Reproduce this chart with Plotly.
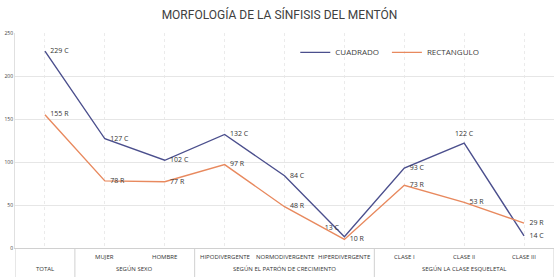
import plotly.graph_objects as go

categories = ["", "MUJER", "HOMBRE", "HIPODIVERGENTE", "NORMODIVERGENTE",
              "HIPERDIVERGENTE", "CLASE I", "CLASE II", "CLASE III"]
groups = ["TOTAL", "SEGÚN SEXO", "SEGÚN EL PATRÓN DE CRECIMIENTO", "SEGÚN LA CLASE ESQUELETAL"]
group_spans = [(0, 0), (1, 2), (3, 5), (6, 8)]
cuadrado = [229, 127, 102, 132, 84, 13, 93, 122, 14]
rectangulo = [155, 78, 77, 97, 48, 10, 73, 53, 29]
y_ticks = [0, 50, 100, 150, 200, 250]

BLUE = "#4b4f8d"
ORANGE = "#e8895e"
FONT = "Open Sans"
x = list(range(len(categories)))

pos_c = ["middle right"] * 9
pos_c[5] = "top left"
pos_c[7] = "top center"
pos_r = ["middle right"] * 9

fig = go.Figure()
fig.add_trace(go.Scatter(
    x=x, y=cuadrado, mode="lines+markers+text", name="CUADRADO", legend="legend",
    line=dict(color=BLUE, width=1.4),
    marker=dict(size=7, color="rgba(0,0,0,0)"),
    text=[f"{v} C" for v in cuadrado], textposition=pos_c,
    textfont=dict(size=7, color="#333333", family=FONT),
))
fig.add_trace(go.Scatter(
    x=x, y=rectangulo, mode="lines+markers+text", name="RECTANGULO", legend="legend2",
    line=dict(color=ORANGE, width=1.4),
    marker=dict(size=7, color="rgba(0,0,0,0)"),
    text=[f"{v} R" for v in rectangulo], textposition=pos_r,
    textfont=dict(size=7, color="#333333", family=FONT),
))

annotations = []
for i, c in enumerate(categories):
    if c:
        annotations.append(dict(x=i, y=-0.042, xref="x", yref="paper", text=c,
                                showarrow=False, font=dict(size=6, color="#333333", family=FONT),
                                yanchor="middle"))
for g, (a, b) in zip(groups, group_spans):
    annotations.append(dict(x=(a + b) / 2, y=-0.098, xref="x", yref="paper", text=g,
                            showarrow=False, font=dict(size=6, color="#333333", family=FONT),
                            yanchor="middle"))

shapes = []
for sx in [-0.5, 0.5, 2.5, 5.5, 8.5]:
    shapes.append(dict(type="line", xref="x", yref="paper", x0=sx, x1=sx, y0=0, y1=-0.14,
                       line=dict(color="#d0d0d0", width=1)))

legend_common = dict(orientation="h", y=0.91, xanchor="left", yanchor="middle",
                     font=dict(size=8, color="#404040", family=FONT),
                     bgcolor="rgba(0,0,0,0)", itemwidth=30)

fig.update_layout(
    width=559, height=277,
    margin=dict(l=15, r=5, t=33, b=29),
    paper_bgcolor="white", plot_bgcolor="white",
    title=dict(text="MORFOLOGÍA DE LA SÍNFISIS DEL MENTÓN", x=0.5, xanchor="center",
               y=0.945, yanchor="middle", font=dict(size=12, color="#404040", family="Roboto")),
    showlegend=True,
    legend=dict(x=0.52, **legend_common),
    legend2=dict(x=0.69, **legend_common),
    annotations=annotations, shapes=shapes,
    xaxis=dict(range=[-0.5, 8.5], tickvals=x, showticklabels=False, ticks="",
               showgrid=True, gridcolor="#ebebeb", griddash="dot", gridwidth=1,
               zeroline=False, showline=True, linecolor="#d0d0d0", mirror=False),
    yaxis=dict(range=[0, 250], tickvals=y_ticks, showgrid=True, gridcolor="#e6e6e6",
               zeroline=False, showline=True, linecolor="#e0e0e0",
               tickfont=dict(size=5, color="#404040", family=FONT), ticks=""),
)

fig.write_html("out.html", config={"displayModeBar": False},
               post_script="document.body.style.margin='0';")
